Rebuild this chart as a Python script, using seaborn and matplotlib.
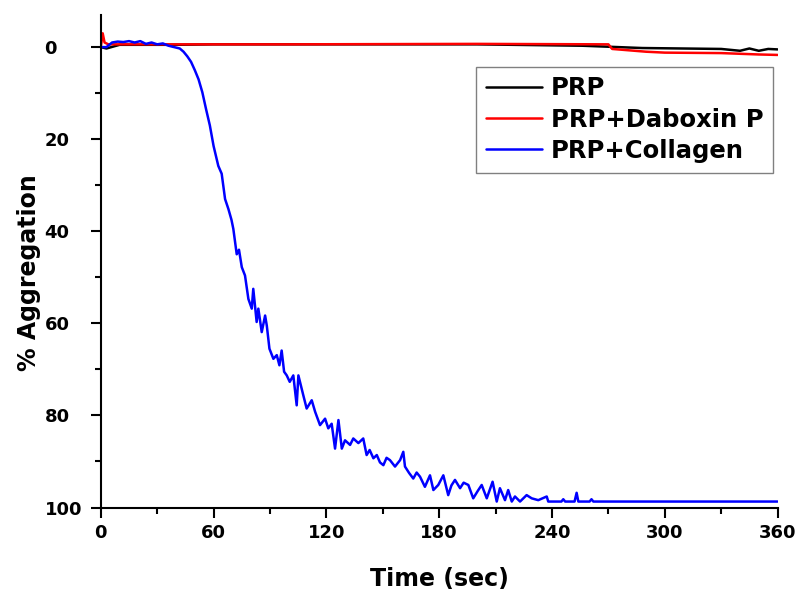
import matplotlib
matplotlib.use("Agg")
import matplotlib.pyplot as plt
from matplotlib.ticker import MultipleLocator
import seaborn as sns
import pandas as pd

# values
prp_t = [0, 3, 10, 40, 60, 150, 200, 256, 288, 330, 340, 345, 350, 355, 360]
prp_v = [0, 0.3, -0.5, -0.5, -0.6, -0.6, -0.6, -0.3, 0.2, 0.4, 0.8, 0.3, 0.8, 0.4, 0.5]

dab_t = [0, 1, 2, 4, 100, 200, 270, 272, 290, 300, 330, 350, 360]
dab_v = [0, -3.0, -1.0, -0.6, -0.6, -0.7, -0.6, 0.4, 1.0, 1.2, 1.3, 1.6, 1.7]

col_t = [0, 3, 6, 9, 12, 15, 18, 21, 24, 27, 30, 33, 36, 39, 42, 44, 46, 48,
         50, 52, 54, 56, 58, 60, 62.5, 64.3, 66.1, 67.9, 69.5, 70.5, 72.3, 73.5,
         75, 76.7, 78.5, 80.3, 81.1, 82.9, 83.8, 85.6, 87.4, 88.3, 89.7, 91.8,
         93.6, 95, 96.2, 97.5, 98.9, 100.5, 102.4, 104.2, 105.1, 107.7, 109.5,
         112.2, 114, 116.6, 119.3, 121, 122.8, 124.6, 126.4, 128.2, 129.9,
         132.6, 134.3, 137, 139.6, 141.4, 143, 145, 146.8, 148.5, 150.3, 152,
         153.8, 156.5, 159.2, 160.9, 161.8, 164, 166.2, 168, 169.8, 172.4,
         175.1, 176.9, 179.5, 182.2, 184.8, 186.5, 188.4, 191.1, 193, 195.5,
         198.1, 200.5, 202.6, 205.3, 208.4, 210.6, 212.3, 215, 216.7, 218.6,
         220.3, 223, 226.5, 229.2, 232.7, 237.2, 238, 245, 246, 247, 252, 253.1,
         254, 260, 261, 262, 360]
col_v = [0, 0, -1.0, -1.2, -1.1, -1.3, -1.0, -1.3, -0.7, -1.0, -0.6, -0.8,
         -0.3, 0, 0.3, 1.0, 2.0, 3.2, 5.0, 7.0, 9.8, 13.5, 17.0, 21.5, 25.8,
         27.5, 33, 35.2, 37.5, 39.5, 45, 44, 47.8, 49.6, 54.7, 56.8, 52.5, 59.7,
         56.8, 61.9, 58.3, 60.5, 65.5, 67.7, 66.9, 69.1, 65.9, 70.5, 71.3, 72.7,
         71.3, 77.8, 71.3, 75.6, 78.5, 76.7, 79.2, 82.1, 80.7, 82.8, 81.8, 87.2,
         81, 87.2, 85.4, 86.4, 85, 86, 85, 88.6, 87.5, 89.3, 88.6, 90.2, 90.8,
         89.2, 89.7, 91.1, 89.7, 87.9, 91.1, 92.5, 93.7, 92.4, 93.3, 95.5, 93,
         96.2, 95.1, 93, 97.3, 95.2, 94, 95.8, 94.6, 95.1, 98, 96.4, 95.1, 98,
         94.4, 98.7, 95.8, 98.4, 96.2, 98.7, 97.6, 98.7, 97.3, 98, 98.4, 97.6,
         98.7, 98.7, 98.2, 98.7, 98.7, 96.8, 98.7, 98.7, 98.2, 98.7, 98.7]

labels = ["PRP", "PRP+Daboxin P", "PRP+Collagen"]
colors = ["black", "red", "blue"]

df = pd.concat([
    pd.DataFrame({"t": prp_t, "v": prp_v, "s": labels[0]}),
    pd.DataFrame({"t": dab_t, "v": dab_v, "s": labels[1]}),
    pd.DataFrame({"t": col_t, "v": col_v, "s": labels[2]}),
])

sns.set_style("ticks")
plt.rcParams["font.family"] = ["DejaVu Sans"]
plt.rcParams["font.weight"] = "bold"
for k in ["text.color", "axes.labelcolor", "xtick.color", "ytick.color", "axes.edgecolor"]:
    plt.rcParams[k] = "black"

fig = plt.figure(figsize=(8, 5.95), dpi=100)
ax = fig.add_axes([0.126, 0.147, 0.846, 0.828])

sns.lineplot(data=df, x="t", y="v", hue="s", palette=colors, hue_order=labels,
             estimator=None, sort=False, linewidth=1.8, ax=ax)

ax.set_xlim(0, 360)
ax.set_ylim(100, -7)
ax.xaxis.set_major_locator(MultipleLocator(60))
ax.xaxis.set_minor_locator(MultipleLocator(30))
ax.yaxis.set_major_locator(MultipleLocator(20))
ax.yaxis.set_minor_locator(MultipleLocator(10))
ax.tick_params(which="major", length=7.5, width=1.5, labelsize=13)
ax.tick_params(which="minor", length=4, width=1.5)
ax.tick_params(axis="x", which="major", pad=4)
ax.tick_params(axis="y", which="major", pad=33)
for lab in ax.get_xticklabels() + ax.get_yticklabels():
    lab.set_fontweight("bold")
for lab in ax.get_yticklabels():
    lab.set_horizontalalignment("left")

sns.despine(ax=ax)
for sp in ["left", "bottom"]:
    ax.spines[sp].set_linewidth(1.5)

ax.set_xlabel("Time (sec)", fontsize=17, fontweight="bold", labelpad=18)
ax.set_ylabel("% Aggregation", fontsize=17, fontweight="bold")
ax.yaxis.set_label_coords(-0.088, 0.476)

leg = ax.legend(loc="upper right", bbox_to_anchor=(0.993, 0.895), borderaxespad=0,
                fancybox=False, framealpha=1, edgecolor="gray",
                prop={"size": 17.5, "weight": "bold"}, handlelength=2.3,
                handletextpad=0.35, labelspacing=0.3, title=None)
leg.get_frame().set_linewidth(1.0)

fig.savefig("out.png", dpi=100)
